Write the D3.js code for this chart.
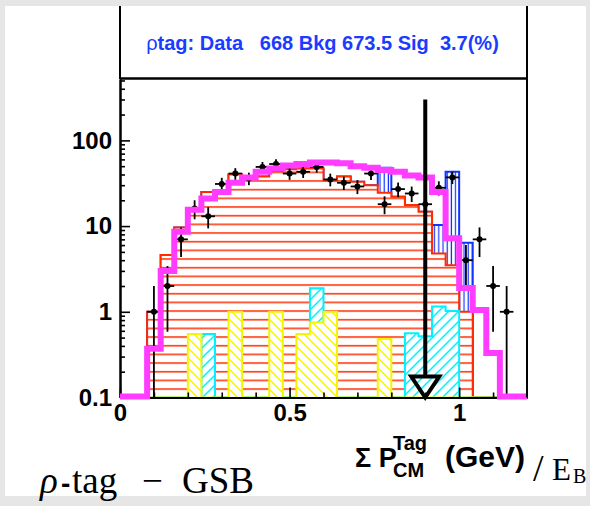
<!DOCTYPE html>
<html>
<head>
<meta charset="utf-8">
<script src="https://cdn.jsdelivr.net/npm/d3@7"></script>
<style>
body { margin: 0; background: #e6e6e6; }
text { font-family: "Liberation Sans", Arial, sans-serif; }
</style>
</head>
<body>
<div id="chart"></div>
<script>
// bin edges of the histograms (x = sum P_CM / E_B)
const binEdges = [0, 0.04, 0.08, 0.12, 0.16, 0.2, 0.24, 0.28, 0.32, 0.36, 0.4,
    0.44, 0.48, 0.52, 0.56, 0.6, 0.64, 0.68, 0.72, 0.76, 0.8,
    0.84, 0.88, 0.92, 0.96, 1.0, 1.04, 1.08, 1.12, 1.16, 1.2];

// data points (counts per bin)
const dataCounts = [0, 0, 1, 2, 7, 16, 13, 31, 41, 36, 49, 53, 41, 43, 49,
    35, 32, 29, 41, 18, 27, 24, 18, 28, 37, 4, 7, 2, 1, 0];
// magenta total curve
const totalFit = [0, 0, 0.37, 3.0, 8.6, 15.5, 21, 25, 32, 37, 43, 47, 51, 53, 55,
    55, 54, 50, 48, 45, 43, 39, 37, 25, 7.2, 1.9, 1.05, 0.33, 0, 0];
// red background (horizontal hatch)
const redBkg = [0, 0, 1.0, 4.6, 9.6, 15, 25, 26, 40, 37, 38, 44, 46, 47, 47,
    34, 38, 33, 30, 24.5, 22, 17.6, 14.7, 4.8, 3.5, 1.0, 0, 0, 0, 0];
// blue background, stacked on red
const blueBkg = [0, 0, 0, 0, 0, 0, 0, 0, 0, 0, 0, 0, 0, 0, 0,
    0, 0, 0, 0, 23.5, 0, 0, 0, 5.5, 39.5, 5.4, 0, 0, 0, 0];
// cyan and yellow components (drawn from the floor)
const cyanComp = [0, 0, 0, 0, 0, 0, 0.55, 0, 0, 0, 0, 0, 0, 0, 1.88,
    0, 0, 0, 0, 0, 0, 0.56, 0.52, 1.15, 1.02, 0, 0, 0, 0, 0];
const yellowComp = [0, 0, 0, 0, 0, 0.55, 0, 0, 1.0, 0, 0, 1.0, 0, 0.55, 0.75,
    1.0, 0, 0, 0, 0.48, 0, 0, 0, 0, 0, 0, 0, 0, 0, 0];

const yMajor = [0.1, 1, 10, 100];
const yMinor = [0.2, 0.3, 0.4, 0.5, 0.6, 0.7, 0.8, 0.9, 2, 3, 4, 5, 6, 7, 8, 9,
    20, 30, 40, 50, 60, 70, 80, 90, 200, 300, 400, 500];
const xMajor = [0, 0.5, 1];
const xMinor = [0.1, 0.2, 0.3, 0.4, 0.6, 0.7, 0.8, 0.9, 1.1];

const cutX = 0.9;       // arrow position
const cutTop = 300;     // arrow start (y value)

const W = 590, H = 506;
const plot = {left: 120, right: 527, top: 79, bottom: 397.5};

const svg = d3.select("#chart").append("svg")
    .attr("width", W).attr("height", H);

svg.append("rect").attr("width", W).attr("height", H).attr("fill", "#e6e6e6");
svg.append("rect").attr("x", 5).attr("y", 6).attr("width", 581).attr("height", 490)
    .attr("fill", "white");

const x = d3.scaleLinear().domain([0, 1.2]).range([plot.left, plot.right]);
const y = d3.scaleLog().domain([0.1, 520]).range([plot.bottom, plot.top]);
const yb = v => y(Math.max(v, 0.1));

// hatch patterns
const defs = svg.append("defs");
const red = "#ff2a00", blue = "#1133ff", cyan = "#00f0ff", yellow = "#f5f500", magenta = "#ff3cff";

defs.append("pattern").attr("id", "hRed").attr("patternUnits", "userSpaceOnUse")
    .attr("width", 10).attr("height", 8.67)
    .append("line").attr("x1", 0).attr("x2", 10).attr("y1", 7.6).attr("y2", 7.6)
    .attr("stroke", red).attr("stroke-width", 1.5);

defs.append("pattern").attr("id", "hBlue").attr("patternUnits", "userSpaceOnUse")
    .attr("width", 4.2).attr("height", 10)
    .append("line").attr("x1", 2).attr("x2", 2).attr("y1", 0).attr("y2", 10)
    .attr("stroke", blue).attr("stroke-width", 1.2);

const pY = defs.append("pattern").attr("id", "hYellow").attr("patternUnits", "userSpaceOnUse")
    .attr("width", 10).attr("height", 10);
pY.append("path").attr("d", "M-1,-1L11,11M-1,9L1,11M9,-1L11,1")
    .attr("stroke", yellow).attr("stroke-width", 1.5);

const pC = defs.append("pattern").attr("id", "hCyan").attr("patternUnits", "userSpaceOnUse")
    .attr("width", 10).attr("height", 10);
pC.append("path").attr("d", "M-1,11L11,-1M-1,1L1,-1M9,11L11,9")
    .attr("stroke", cyan).attr("stroke-width", 1.5);

// closed step outline from the floor
function histPath(vals) {
    let p = `M${x(binEdges[0])},${plot.bottom}`;
    vals.forEach((v, i) => {
        const yy = v > 0 ? yb(v) : plot.bottom;
        p += `L${x(binEdges[i])},${yy}L${x(binEdges[i + 1])},${yy}`;
    });
    p += `L${x(binEdges[vals.length])},${plot.bottom}`;
    return p;
}

function drawHist(vals, patId, color) {
    const d = histPath(vals);
    svg.append("path").attr("d", d).attr("fill", "white");
    svg.append("path").attr("d", d).attr("fill", `url(#${patId})`)
        .attr("stroke", color).attr("stroke-width", 2).attr("stroke-linejoin", "miter");
}

// stacked red + blue
const stackTop = redBkg.map((v, i) => v + blueBkg[i]);
drawHist(stackTop, "hBlue", blue);
drawHist(redBkg, "hRed", red);
drawHist(cyanComp, "hCyan", cyan);
drawHist(yellowComp, "hYellow", yellow);

// data points with sqrt(N) errors
const pts = dataCounts.map((n, i) => ({
    n, lo: binEdges[i], hi: binEdges[i + 1], c: (binEdges[i] + binEdges[i + 1]) / 2
})).filter(d => d.n > 0);

const dataG = svg.append("g").attr("class", "dataG");
dataG.selectAll(".errV").data(pts).join("line").attr("class", "errV")
    .attr("x1", d => x(d.c)).attr("x2", d => x(d.c))
    .attr("y1", d => yb(d.n + Math.sqrt(d.n)))
    .attr("y2", d => yb(d.n - Math.sqrt(d.n)))
    .attr("stroke", "black").attr("stroke-width", 1.8);
dataG.selectAll(".errH").data(pts).join("line").attr("class", "errH")
    .attr("x1", d => x(d.lo)).attr("x2", d => x(d.hi))
    .attr("y1", d => yb(d.n)).attr("y2", d => yb(d.n))
    .attr("stroke", "black").attr("stroke-width", 1.8);
dataG.selectAll("circle").data(pts).join("circle")
    .attr("cx", d => x(d.c)).attr("cy", d => yb(d.n)).attr("r", 3)
    .attr("fill", "black");

// axes
const yAxisMaj = d3.axisLeft(y).tickValues(yMajor).tickSizeInner(-10).tickSizeOuter(0)
    .tickPadding(8).tickFormat(d => d3.format("~g")(d));
const yAxisMin = d3.axisLeft(y).tickValues(yMinor).tickSizeInner(-5).tickSizeOuter(0)
    .tickFormat("");
const xAxisMaj = d3.axisBottom(x).tickValues(xMajor).tickSizeInner(-10).tickSizeOuter(0)
    .tickPadding(6).tickFormat(d => d3.format("~g")(d));
const xAxisMin = d3.axisBottom(x).tickValues(xMinor).tickSizeInner(-5).tickSizeOuter(0)
    .tickFormat("");

function styleAxis(g) {
    g.selectAll("path.domain").attr("stroke", "black").attr("stroke-width", 2);
    g.selectAll(".tick line").attr("stroke", "black").attr("stroke-width", 1.6);
    g.selectAll("text").attr("fill", "black").attr("font-size", 24)
        .attr("font-weight", "bold").attr("font-family", "'Liberation Sans', Arial, sans-serif");
}

svg.append("g").attr("transform", `translate(${plot.left},0)`).call(yAxisMin).call(styleAxis);
svg.append("g").attr("transform", `translate(${plot.left},0)`).call(yAxisMaj).call(styleAxis);
svg.append("g").attr("transform", `translate(0,${plot.bottom})`).call(xAxisMin).call(styleAxis);
svg.append("g").attr("transform", `translate(0,${plot.bottom})`).call(xAxisMaj).call(styleAxis);

// magenta line, drawn over the axis like the original
let mp = `M${x(binEdges[0])},${yb(totalFit[0]) - 1}`;
totalFit.forEach((v, i) => {
    const yy = v > 0 ? yb(v) : plot.bottom - 1;
    mp += `L${x(binEdges[i])},${yy}L${x(binEdges[i + 1])},${yy}`;
});
svg.append("path").attr("d", mp).attr("fill", "none")
    .attr("stroke", magenta).attr("stroke-width", 6).attr("stroke-linejoin", "miter");

// frame and header box
svg.append("line").attr("x1", plot.right).attr("x2", plot.right).attr("y1", 6).attr("y2", plot.bottom)
    .attr("stroke", "black").attr("stroke-width", 2);
svg.append("line").attr("x1", plot.left).attr("x2", plot.left).attr("y1", 6).attr("y2", plot.top)
    .attr("stroke", "black").attr("stroke-width", 2);
svg.append("line").attr("x1", plot.left).attr("x2", plot.right + 1).attr("y1", 78.5).attr("y2", 78.5)
    .attr("stroke", "black").attr("stroke-width", 2.5);

const header = svg.append("text").attr("x", (plot.left + plot.right) / 2 - 1).attr("y", 49.5)
    .attr("text-anchor", "middle").attr("fill", "#1a3cff").attr("font-size", 20)
    .attr("font-weight", "bold").style("white-space", "pre");
header.append("tspan").attr("font-weight", "normal").text("ρ");
header.append("tspan").text("tag: Data   668 Bkg 673.5 Sig  3.7(%)");

// cut arrow
const ax = x(cutX), aTop = y(cutTop), aTip = y(0.1);
svg.append("line").attr("x1", ax).attr("x2", ax).attr("y1", aTop).attr("y2", aTip - 20)
    .attr("stroke", "black").attr("stroke-width", 4);
svg.append("path")
    .attr("d", `M${ax - 14},${aTip - 21}L${ax + 14},${aTip - 21}L${ax},${aTip}Z`)
    .attr("fill", "none").attr("stroke", "black").attr("stroke-width", 4)
    .attr("stroke-linejoin", "miter");

// x title
const tb = "'Liberation Sans', Arial, sans-serif";
const serif = "'Liberation Serif', 'DejaVu Serif', serif";
const tg = svg.append("g").attr("font-weight", "bold").attr("fill", "black");
tg.append("text").attr("x", 355).attr("y", 467).attr("font-size", 27).text("Σ P");
tg.append("text").attr("x", 393).attr("y", 450).attr("font-size", 20).text("Tag");
tg.append("text").attr("x", 393).attr("y", 477).attr("font-size", 20).text("CM");
tg.append("text").attr("x", 445).attr("y", 467).attr("font-size", 30).text("(GeV)");
svg.append("text").attr("x", 533).attr("y", 481).attr("font-size", 38)
    .style("font-family", serif).text("/");
svg.append("text").attr("x", 552).attr("y", 480).attr("font-size", 31)
    .style("font-family", serif).text("E");
svg.append("text").attr("x", 573).attr("y", 483).attr("font-size", 20)
    .style("font-family", serif).text("B");

// bottom-left label
const lab = (tx, px, opts) => {
    const t = svg.append("text").attr("x", px).attr("y", 493)
        .style("font-family", opts && opts.sans ? tb : serif)
        .attr("font-size", opts && opts.size ? opts.size : 37).text(tx);
    if (opts && opts.italic) t.attr("font-style", "italic");
    if (opts && opts.sans) t.attr("font-weight", "bold");
    return t;
};
lab("ρ", 40, {italic: true});
lab("-", 61, {sans: true, size: 28});
lab("tag", 72);
lab("−", 142);
lab("GSB", 182);
</script>
</body>
</html>
